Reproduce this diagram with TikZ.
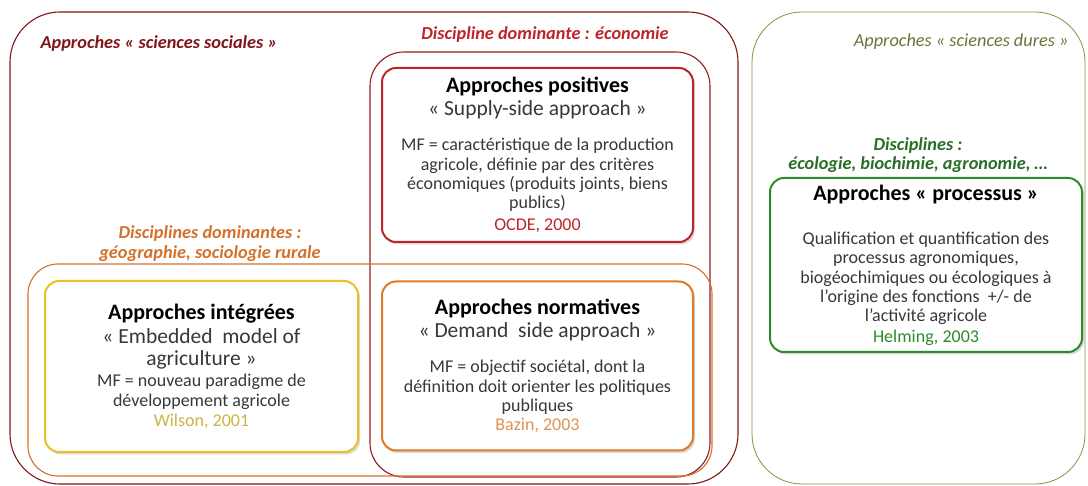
\documentclass[tikz,border=0pt]{standalone}
\usepackage{fontspec}
\setmainfont{Carlito}
\usetikzlibrary{shapes.geometric, shadows, positioning}
\usepackage{xcolor}

\definecolor{socred}{RGB}{128,22,24}
\definecolor{ecored}{RGB}{150,26,30}
\definecolor{posred}{RGB}{190,36,40}
\definecolor{georange}{RGB}{210,112,44}
\definecolor{normorange}{RGB}{222,122,40}
\definecolor{intyellow}{RGB}{238,190,40}
\definecolor{hardgreen}{RGB}{128,146,70}
\definecolor{procgreen}{RGB}{44,140,44}
\definecolor{discgreen}{RGB}{40,110,36}
\definecolor{wilsoncol}{RGB}{204,180,70}
\definecolor{bazincol}{RGB}{222,146,82}

\newcommand{\apptitle}[1]{{\fontsize{22}{21}\selectfont\bfseries\color{black} #1}}
\newcommand{\appsub}[1]{{\fontsize{21.5}{21}\selectfont #1}}

\begin{document}
\begin{tikzpicture}[x=1pt, y=-1pt,
    domain/.style={rectangle, draw=#1, line width=1.1pt, rounded corners=40pt},
    approach/.style={rectangle, draw=#1, line width=2pt, rounded corners=14pt, fill=white,
        drop shadow={opacity=0.3, shadow xshift=2pt, shadow yshift=-2.5pt},
        align=center, text=black!78, font=\fontsize{18}{19.3}\selectfont, inner sep=0pt},
    header/.style={font=\fontsize{18.3}{19.5}\selectfont\bfseries\itshape, align=center}]
    \useasboundingbox (0,0) rectangle (1088,486);

    % Domains
    \node (social) [domain=socred, rounded corners=50pt, minimum width=728pt, minimum height=472pt] at (374,248) {};
    \node (eco) [domain=ecored, rounded corners=34pt, minimum width=340pt, minimum height=425pt] at (540,264.5) {};
    \node (geo) [domain=georange, rounded corners=30pt, minimum width=684pt, minimum height=212pt] at (370,370) {};
    \node (hard) [domain=hardgreen, rounded corners=50pt, line width=0.8pt, minimum width=333pt, minimum height=472pt] at (918.5,248) {};

    % Labels
    \node (sociallabel) [header, text=socred, anchor=west] at (37,44) {Approches « sciences sociales »};
    \node (ecolabel) [header, text=posred] at (545,35) {Discipline dominante : économie};
    \node (geolabel) [header, text=georange] at (210,243.5) {Disciplines dominantes :\\géographie, sociologie rurale};
    \node (hardlabel) [header, text=hardgreen!80!black, font=\fontsize{18.3}{19.5}\selectfont\itshape, anchor=east] at (1072,42) {Approches « sciences dures »};
    \node (disclabel) [header, text=discgreen] at (918,155) {Disciplines :\\écologie, biochimie, agronomie, …};

    % Approaches
    \node (positive) [approach=posred, minimum width=311pt, minimum height=174pt] at (537.5,155) {%
        \apptitle{Approches positives}\\[4pt]
        \appsub{« Supply-side approach »}\\[16pt]
        MF = caractéristique de la production\\
        agricole, définie par des critères\\
        économiques (produits joints, biens\\
        publics)\\[3pt]
        \textcolor{posred}{OCDE, 2000}};
    \node (integrated) [approach=intyellow, minimum width=313pt, minimum height=171pt] at (201.5,366.5) {%
        \apptitle{Approches intégrées}\\[4pt]
        \appsub{« Embedded\ \ model of}\\[3pt]
        \appsub{agriculture »}\\[2pt]
        MF = nouveau paradigme de\\
        développement agricole\\[1pt]
        \textcolor{wilsoncol}{Wilson, 2001}};
    \node (normative) [approach=normorange, minimum width=311pt, minimum height=169pt] at (537.5,366) {%
        \apptitle{Approches normatives}\\[4pt]
        \appsub{« Demand\ \ side approach »}\\[16pt]
        MF = objectif sociétal, dont la\\
        définition doit orienter les politiques\\
        publiques\\
        \textcolor{bazincol}{Bazin, 2003}};
    \node (process) [approach=procgreen, minimum width=312pt, minimum height=174pt] at (926,265) {%
        \apptitle{Approches « processus »}\\[25pt]
        Qualification et quantification des\\
        processus agronomiques,\\
        biogéochimiques ou écologiques à\\
        l’origine des fonctions\ \ +/- de\\
        l’activité agricole\\[1pt]
        \textcolor{procgreen}{Helming, 2003}};
\end{tikzpicture}
\end{document}
